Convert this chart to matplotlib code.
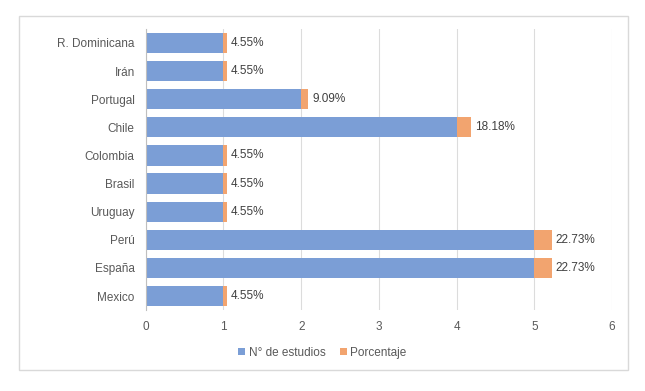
import numpy as np
import matplotlib.pyplot as plt
from matplotlib.patches import Rectangle

paises = ['R. Dominicana', 'Irán', 'Portugal', 'Chile', 'Colombia',
          'Brasil', 'Uruguay', 'Perú', 'España', 'Mexico']
n_estudios = [1, 1, 2, 4, 1, 1, 1, 5, 5, 1]
porcentaje = [0.0455, 0.0455, 0.0909, 0.1818, 0.0455,
              0.0455, 0.0455, 0.2273, 0.2273, 0.0455]

azul = '#7b9ed6'
naranja = '#f2a46f'
gris = '#595959'

plt.rcParams['font.family'] = ['Liberation Sans', 'DejaVu Sans']

fig = plt.figure(figsize=(6.45, 3.91), dpi=100)
ax = fig.add_axes([0.226, 0.207, 0.723, 0.719])

y = np.arange(len(paises))
ax.barh(y, n_estudios, height=0.72, color=azul, label='N° de estudios', zorder=2)
ax.barh(y, porcentaje, left=n_estudios, height=0.72, color=naranja,
        label='Porcentaje', zorder=2)

for i in range(len(paises)):
    ax.text(n_estudios[i] + porcentaje[i] + 0.05, y[i], f'{porcentaje[i]*100:.2f}%',
            va='center', ha='left', fontsize=8.5, color='#404040')

ax.set_xlim(0, 6)
ax.set_ylim(len(paises) - 0.5, -0.5)
ax.set_yticks(y)
ax.set_yticklabels(paises)
ax.set_xticks(range(7))
ax.tick_params(length=0, labelsize=8.5, labelcolor=gris, pad=8)
ax.grid(axis='x', color='#dcdcdc', linewidth=0.8, zorder=0)
for s in ['top', 'right', 'bottom']:
    ax.spines[s].set_visible(False)
ax.spines['left'].set_color('#bfbfbf')
ax.spines['left'].set_linewidth(0.8)

leg = fig.legend(loc='center', bbox_to_anchor=(0.5, 0.098), ncol=2, frameon=False,
                 fontsize=8.5, handlelength=0.6, handleheight=0.6, handletextpad=0.3,
                 columnspacing=1.2)
for t in leg.get_texts():
    t.set_color(gris)

fig.patches.append(Rectangle((19 / 645, 1 - 370 / 391), 609 / 645, 354 / 391,
                             transform=fig.transFigure, fill=False,
                             edgecolor='#d9d9d9', linewidth=1))

fig.savefig('out.png', dpi=100)
